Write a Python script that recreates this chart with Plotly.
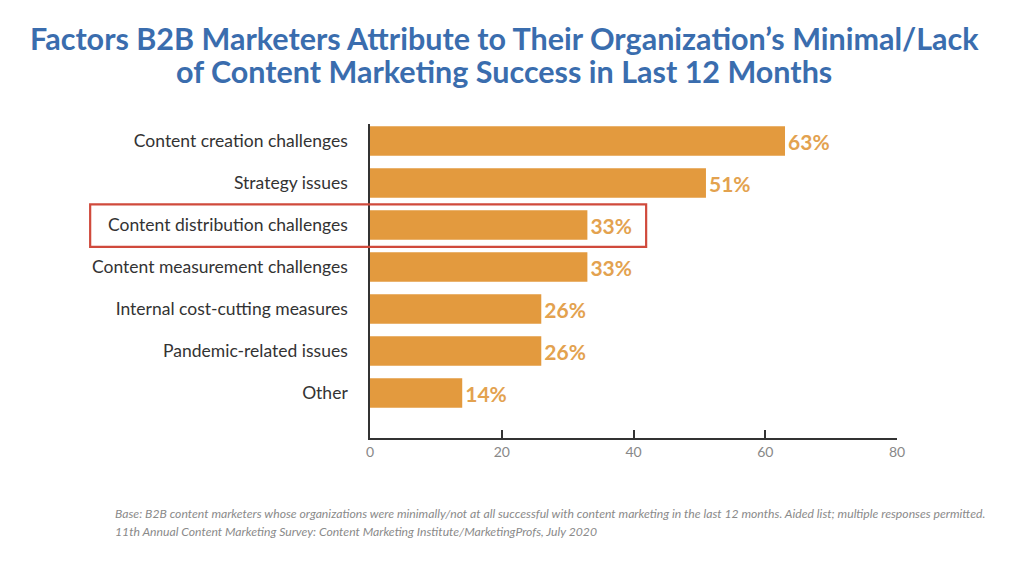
import plotly.graph_objects as go

categories = [
    "Content creation challenges",
    "Strategy issues",
    "Content distribution challenges",
    "Content measurement challenges",
    "Internal cost-cutting measures",
    "Pandemic-related issues",
    "Other",
]
values = [63, 51, 33, 33, 26, 26, 14]
labels = [f"{v}%" for v in values]
x_ticks = [0, 20, 40, 60, 80]
title_lines = [
    "Factors B2B Marketers Attribute to Their Organization’s Minimal/Lack",
    "of Content Marketing Success in Last 12 Months",
]
note_lines = [
    "Base: B2B content marketers whose organizations were minimally/not at all successful with content marketing in the last 12 months. Aided list; multiple responses permitted.",
    "11th Annual Content Marketing Survey: Content Marketing Institute/MarketingProfs, July 2020",
]

BAR = "#E39A3E"
LABEL = "#E3A24F"
BLUE = "#3A6DAE"

fig = go.Figure()
fig.add_trace(go.Bar(
    y=categories, x=values, orientation="h",
    marker=dict(color=BAR, line=dict(width=0)),
    width=0.70,
    text=labels, textposition="outside",
    textfont=dict(family="Lato", size=21, color=LABEL, weight="bold"),
    cliponaxis=False,
    hoverinfo="skip",
))

fig.add_shape(type="rect", xref="paper", yref="y",
              x0=-0.531, x1=0.524, y0=1.51, y1=2.52,
              line=dict(color="#D04A3C", width=2.2), fillcolor="rgba(0,0,0,0)")

fig.update_layout(
    width=1024, height=567,
    margin=dict(l=370, r=127, t=124, b=129),
    paper_bgcolor="white", plot_bgcolor="white",
    showlegend=False,
    bargap=0.3,
    font=dict(family="Lato"),
)

# title lines (pixel-centred at x=504)
for line, ypx in zip(title_lines, [38, 71]):
    fig.add_annotation(
        xref="paper", yref="paper",
        x=(504 - 370) / 527, y=1 + (124 - ypx) / 314,
        xanchor="center", yanchor="middle", showarrow=False,
        text=line,
        font=dict(family="Lato", size=30.5, color=BLUE, weight="bold"),
    )

fig.update_xaxes(
    range=[0, 80], tickvals=x_ticks, ticktext=[str(t) for t in x_ticks],
    showgrid=False, zeroline=False,
    showline=True, linecolor="#333333", linewidth=1.5,
    ticks="inside", ticklen=8, tickwidth=1.5, tickcolor="#333333",
    tickfont=dict(family="Lato", size=14, color="#888888"),
    ticklabelstandoff=0,
    fixedrange=True,
)
fig.update_yaxes(
    range=[7.07, -0.405], type="category",
    showgrid=False, zeroline=False,
    showline=True, linecolor="#333333", linewidth=1.5,
    ticks="", ticklabelstandoff=17,
    tickfont=dict(family="Lato", size=17.5, color="#333333"),
    fixedrange=True,
)

for line, ypx in zip(note_lines, [513, 531]):
    fig.add_annotation(
        xref="paper", yref="paper", x=(113 - 370) / 527, y=1 + (124 - ypx) / 314,
        xanchor="left", yanchor="middle", align="left", showarrow=False,
        text=f"<i>{line}</i>",
        font=dict(family="Lato", size=12.2, color="#8a8a8a"),
    )

fig.write_html("out.html")
